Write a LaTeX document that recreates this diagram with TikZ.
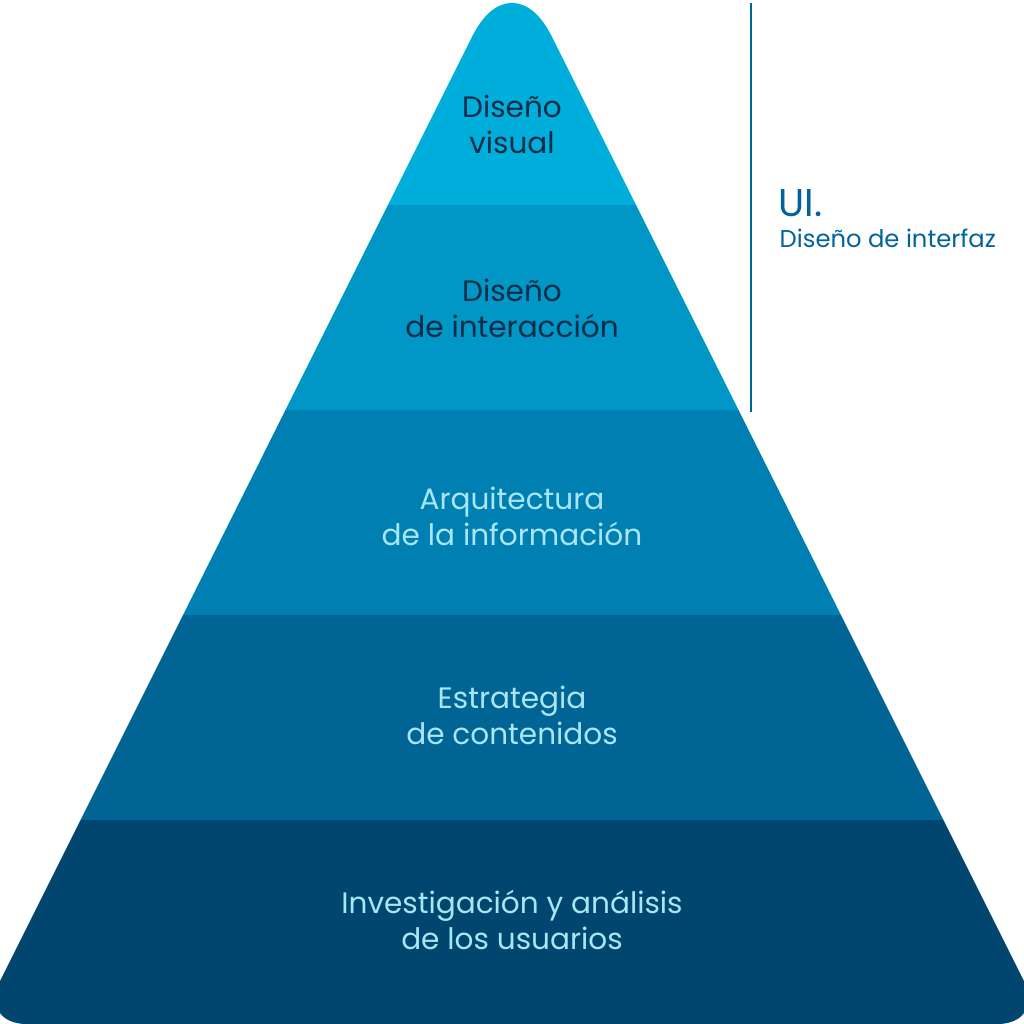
\documentclass[tikz,border=0pt]{standalone}
\usepackage{fontspec}
\setmainfont{Poppins}
\usepackage{tikz}
\definecolor{bandA}{HTML}{00AEDC}
\definecolor{bandB}{HTML}{0096C6}
\definecolor{bandC}{HTML}{0080B2}
\definecolor{bandD}{HTML}{006494}
\definecolor{bandE}{HTML}{00466F}
\definecolor{darktext}{HTML}{0C2D48}
\definecolor{lighttext}{HTML}{A9E6F3}
\definecolor{uiblue}{HTML}{00649A}
\tikzstyle{band} = [draw=none]
\tikzstyle{darklabel} =
[align=center, text=darktext, font=\fontsize{8.4}{10.2}\selectfont, inner sep=0pt]
\tikzstyle{lightlabel} =
[align=center, text=lighttext, font=\fontsize{8.4}{10.2}\selectfont, inner sep=0pt]
\begin{document}
\begin{tikzpicture}[x=0.01cm, y=-0.01cm]
  \useasboundingbox (0,0) rectangle (1024,1024);
  % pyramid outline
  \begin{scope}
    \clip (512,1024) -- (997.5,1024)
      .. controls (1024,1024) and (1035.9,1004.8) .. (1024,981.1)
      -- (551.4,35.7)
      .. controls (529.5,-8) and (494.5,-8) .. (472.6,35.7)
      -- (0,981.1)
      .. controls (-11.9,1004.8) and (0,1024) .. (26.5,1024) -- cycle;
    \fill [band, bandA] (-30,-50) rectangle (1060,205);
    \fill [band, bandB] (-30,205) rectangle (1060,410);
    \fill [band, bandC] (-30,410) rectangle (1060,615);
    \fill [band, bandD] (-30,615) rectangle (1060,820);
    \fill [band, bandE] (-30,820) rectangle (1060,1030);
  \end{scope}
  % labels
  \node [darklabel] (visual) at (512,124) {Diseño\\visual};
  \node [darklabel] (interaccion) at (512,308) {Diseño\\de interacción};
  \node [lightlabel] (arquitectura) at (512,516)
   {Arquitectura\\de la información};
  \node [lightlabel] (estrategia) at (512,715) {Estrategia\\de contenidos};
  \node [lightlabel] (investigacion) at (512,920)
   {Investigación y análisis\\de los usuarios};
  % UI bracket
  \coordinate (uitop) at (750.5,3);
  \coordinate (uibot) at (750.5,412);
  \draw [uiblue, line width=0.57pt] (uitop) -- (uibot);
  \node [anchor=base west, inner sep=0pt, text=uiblue,
   font=\fontsize{11}{12}\selectfont] (ui) at (778,216) {UI.};
  \node [anchor=base west, inner sep=0pt, text=uiblue,
   font=\fontsize{6.9}{8}\selectfont] (uitext) at (779,247)
   {Diseño de interfaz};
\end{tikzpicture}
\end{document}
